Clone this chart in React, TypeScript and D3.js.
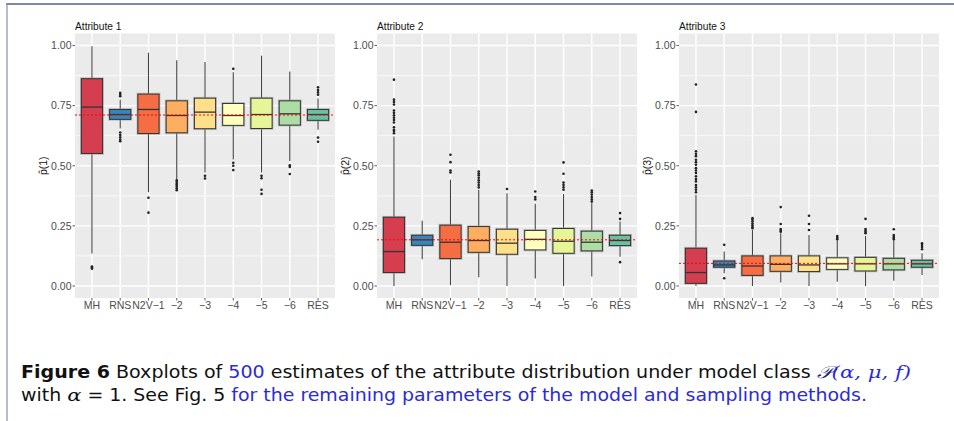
import React from "react";
import * as d3 from "d3";

// categories (sampling methods) and box fill colours
const methods = ["MH", "RNS", "N2V−1", "−2", "−3", "−4", "−5", "−6", "RES"];
const methodColors = ["#d53e4f", "#3288bd", "#f46d43", "#fdae61", "#fee08b", "#ffffbf", "#e6f598", "#abdda4", "#66c2a5"];

// [lower whisker, q1, median, q3, upper whisker]
const attr1Stats = [
  [0.135, 0.551, 0.744, 0.862, 0.997],
  [0.655, 0.693, 0.713, 0.734, 0.775],
  [0.39, 0.634, 0.734, 0.798, 0.97],
  [0.445, 0.637, 0.709, 0.77, 0.939],
  [0.472, 0.654, 0.723, 0.781, 0.931],
  [0.526, 0.668, 0.709, 0.759, 0.889],
  [0.472, 0.655, 0.713, 0.781, 0.958],
  [0.52, 0.669, 0.716, 0.77, 0.892],
  [0.65, 0.689, 0.713, 0.734, 0.78],
];
const attr1Outliers = [
  [0.072, 0.078, 0.081],
  [0.803, 0.795, 0.789, 0.638, 0.628, 0.618, 0.608, 0.602],
  [0.367, 0.305],
  [0.44, 0.432, 0.425, 0.42, 0.413, 0.405, 0.398],
  [0.458, 0.447],
  [0.903, 0.512, 0.5, 0.482],
  [0.458, 0.448, 0.4, 0.383],
  [0.502, 0.495, 0.466],
  [0.826, 0.815, 0.805, 0.795, 0.617, 0.6],
];

const attr2Stats = [
  [0.0, 0.056, 0.143, 0.286, 0.622],
  [0.111, 0.169, 0.192, 0.211, 0.271],
  [0.004, 0.114, 0.182, 0.253, 0.442],
  [0.036, 0.14, 0.189, 0.247, 0.4],
  [0.0, 0.132, 0.178, 0.236, 0.386],
  [0.031, 0.15, 0.194, 0.231, 0.342],
  [0.0, 0.136, 0.186, 0.239, 0.382],
  [0.039, 0.146, 0.182, 0.228, 0.344],
  [0.122, 0.168, 0.189, 0.211, 0.268],
];
const attr2Outliers = [
  [0.858, 0.775, 0.765, 0.755, 0.73, 0.72, 0.71, 0.7, 0.69, 0.68, 0.66, 0.65, 0.645, 0.635],
  [],
  [0.546, 0.515, 0.48, 0.472],
  [0.476, 0.468, 0.46, 0.45, 0.44, 0.43, 0.42, 0.41],
  [0.403],
  [0.393, 0.37, 0.36],
  [0.514, 0.467, 0.43, 0.42, 0.41, 0.4],
  [0.397, 0.39, 0.38, 0.37, 0.36, 0.351],
  [0.303, 0.279, 0.099],
];

const attr3Stats = [
  [0.0, 0.011, 0.056, 0.157, 0.379],
  [0.053, 0.078, 0.0875, 0.104, 0.143],
  [0.0, 0.044, 0.083, 0.125, 0.233],
  [0.014, 0.061, 0.09, 0.125, 0.219],
  [0.0, 0.06, 0.0875, 0.125, 0.212],
  [0.018, 0.069, 0.092, 0.117, 0.189],
  [0.0, 0.0625, 0.092, 0.119, 0.208],
  [0.022, 0.067, 0.092, 0.115, 0.189],
  [0.046, 0.078, 0.092, 0.107, 0.136],
];
const attr3Outliers = [
  [0.838, 0.724, 0.56, 0.55, 0.54, 0.525, 0.515, 0.504, 0.49, 0.48, 0.47, 0.456, 0.445, 0.435, 0.42, 0.41, 0.4, 0.39],
  [0.171, 0.032],
  [0.282, 0.275, 0.268, 0.26, 0.252, 0.245, 0.24],
  [0.328, 0.258, 0.237, 0.23, 0.226],
  [0.292, 0.258, 0.233],
  [0.208, 0.2, 0.194],
  [0.279, 0.237, 0.23, 0.224, 0.219],
  [0.236, 0.212, 0.205, 0.2, 0.194],
  [0.178, 0.17, 0.162, 0.153],
];

const panelTitles = ["Attribute 1", "Attribute 2", "Attribute 3"];
const trueValues = [0.711, 0.192, 0.094];
const yTicks = [0, 0.25, 0.5, 0.75, 1];
const yMinor = [0.125, 0.375, 0.625, 0.875];

const panels = [
  { title: panelTitles[0], stats: attr1Stats, outliers: attr1Outliers, truth: trueValues[0], idx: 1 },
  { title: panelTitles[1], stats: attr2Stats, outliers: attr2Outliers, truth: trueValues[1], idx: 2 },
  { title: panelTitles[2], stats: attr3Stats, outliers: attr3Outliers, truth: trueValues[2], idx: 3 },
];

const W = 954, H = 421;
const panelLefts = [75, 377, 679];
const pw = 260;
const top = 33.5, bottom = 298;
const axisFont = "Liberation Sans, Arial, sans-serif";

const Panel = ({ p, left }: any) => {
  const x = d3.scalePoint<string>().domain(methods).range([left, left + pw]).padding(0.6);
  const y = d3.scaleLinear().domain([-0.05, 1.05]).range([bottom, top]);
  const bw = x.step() * 0.75;
  return (
    <g>
      <rect x={left} y={top} width={pw} height={bottom - top} fill="#ebebeb" />
      {yMinor.map((t) => (
        <line key={"m" + t} x1={left} x2={left + pw} y1={y(t)} y2={y(t)} stroke="#fff" strokeWidth={0.7} />
      ))}
      {yTicks.map((t) => (
        <line key={"g" + t} x1={left} x2={left + pw} y1={y(t)} y2={y(t)} stroke="#fff" strokeWidth={1.4} />
      ))}
      {methods.map((m) => (
        <line key={"v" + m} x1={x(m)} x2={x(m)} y1={top} y2={bottom} stroke="#fff" strokeWidth={1.4} />
      ))}
      {methods.map((m, i) => {
        const [lo, q1, med, q3, hi] = p.stats[i];
        const cx = x(m) as number;
        return (
          <g key={"b" + m}>
            <line x1={cx} x2={cx} y1={y(hi)} y2={y(q3)} stroke="#444" strokeWidth={1.1} />
            <line x1={cx} x2={cx} y1={y(q1)} y2={y(lo)} stroke="#444" strokeWidth={1.1} />
            <rect x={cx - bw / 2} y={y(q3)} width={bw} height={y(q1) - y(q3)} fill={methodColors[i]}
              stroke="#999" strokeOpacity={0.6} strokeWidth={2.6} />
            <rect x={cx - bw / 2} y={y(q3)} width={bw} height={y(q1) - y(q3)} fill={methodColors[i]}
              stroke="#333" strokeWidth={1} />
            <line x1={cx - bw / 2} x2={cx + bw / 2} y1={y(med)} y2={y(med)} stroke="#333" strokeWidth={1.3} />
            {p.outliers[i].map((o: number, j: number) => (
              <circle key={j} cx={cx} cy={y(o)} r={1.3} fill="#222" />
            ))}
          </g>
        );
      })}
      <line x1={left} x2={left + pw} y1={y(p.truth)} y2={y(p.truth)} stroke="#ff0000" strokeWidth={1} strokeDasharray="2,2" />
      {yTicks.map((t) => (
        <g key={"t" + t}>
          <line x1={left - 2.5} x2={left} y1={y(t)} y2={y(t)} stroke="#333" strokeWidth={0.8} />
          <text x={left - 3.5} y={y(t)} dy="0.36em" textAnchor="end" fontSize={10.5} fill="#4d4d4d" fontFamily={axisFont}>
            {t.toFixed(2)}
          </text>
        </g>
      ))}
      {methods.map((m) => (
        <g key={"xt" + m}>
          <line x1={x(m)} x2={x(m)} y1={bottom} y2={bottom + 2.5} stroke="#333" strokeWidth={0.8} />
          <text x={x(m)} y={308.5} textAnchor="middle" fontSize={10.5} fill="#4d4d4d" fontFamily={axisFont}>
            {m}
          </text>
        </g>
      ))}
      <text x={left} y={30} fontSize={10.2} fill="#111" fontFamily={axisFont}>{p.title}</text>
      <text transform={`translate(${left - 28},${(top + bottom) / 2}) rotate(-90)`} textAnchor="middle"
        fontSize={10.5} fill="#111" fontFamily={axisFont}>
        {"p\u0302(" + p.idx + ")"}
      </text>
    </g>
  );
};

const App = () => {
  const capFont = "DejaVu Sans Condensed, DejaVu Sans, sans-serif";
  const blue = "#2b2bd9";
  return (
    <svg width={W} height={H} style={{ position: "absolute", left: 0, top: 0, background: "#fff" }}>
      <rect width={W} height={H} fill="#fff" />
      <line x1={6} x2={W} y1={4} y2={4} stroke="#7a8aa3" strokeWidth={2} />
      <line x1={7} x2={7} y1={4} y2={H} stroke="#8d9bb0" strokeWidth={1.3} />
      {panels.map((p, i) => (
        <Panel key={i} p={p} left={panelLefts[i]} />
      ))}
      <text x={21} y={378} fontSize={17} fontFamily={capFont} fill="#111" textLength={890} lengthAdjust="spacingAndGlyphs">
        <tspan fontWeight="bold">Figure 6</tspan>
        <tspan> Boxplots of </tspan>
        <tspan fill={blue}>500</tspan>
        <tspan> estimates of the attribute distribution under model class </tspan>
        <tspan fill="#22227a" fontFamily="DejaVu Serif, serif" fontStyle="italic">𝒫</tspan>
        <tspan fill={blue} fontFamily="DejaVu Serif, serif" fontStyle="italic">(α, μ, f)</tspan>
      </text>
      <text x={21} y={401} fontSize={17} fontFamily={capFont} fill="#111" textLength={846} lengthAdjust="spacingAndGlyphs">
        <tspan>with </tspan>
        <tspan fontFamily="DejaVu Serif, serif" fontStyle="italic">α</tspan>
        <tspan> = 1. See Fig. 5 </tspan>
        <tspan fill={blue}>for the remaining parameters of the model and sampling methods.</tspan>
      </text>
    </svg>
  );
};

export default App;
